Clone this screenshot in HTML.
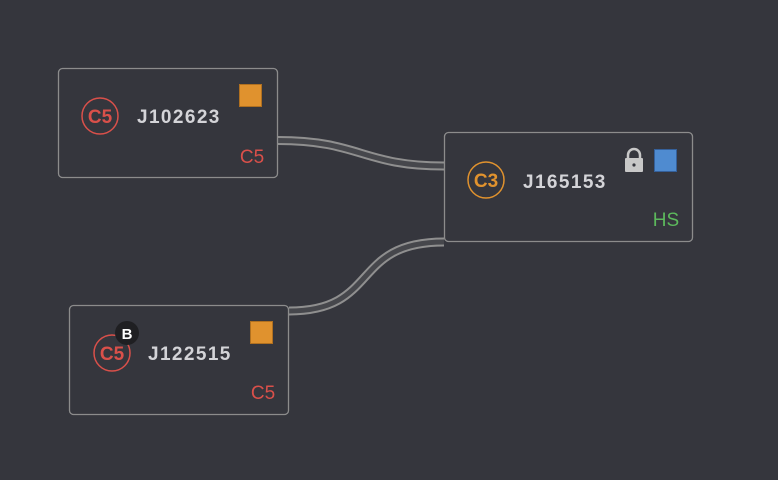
<!DOCTYPE html>
<html><head><style>
html,body{margin:0;padding:0;background:#35363d;width:778px;height:480px;overflow:hidden;font-family:"Liberation Sans",sans-serif;}
svg{position:absolute;left:0;top:0}
</style></head><body>
<svg width="778" height="480" xmlns="http://www.w3.org/2000/svg">
<g fill="none">
<path d="M278,140.5 C360,140.5 362,166 444,166" stroke="#8f8f8f" stroke-width="9"/>
<path d="M278,140.5 C360,140.5 362,166 444,166" stroke="#46474c" stroke-width="5"/>
<path d="M289,311 C380,311 350,242 444,242" stroke="#8f8f8f" stroke-width="9"/>
<path d="M289,311 C380,311 350,242 444,242" stroke="#46474c" stroke-width="5"/>
</g>
<g stroke="#8c8c8c" stroke-width="1.3" fill="#35363d">
<rect x="58.5" y="68.5" width="219" height="109" rx="4"/>
<rect x="444.5" y="132.5" width="248" height="109" rx="4"/>
<rect x="69.5" y="305.5" width="219" height="109" rx="4"/>
</g>
<g font-family="Liberation Sans">
<!-- node 1 -->
<circle cx="100" cy="116" r="18" fill="none" stroke="#d9504a" stroke-width="1.5"/>
<text x="100" y="123" font-size="19" font-weight="bold" fill="#d9504a" text-anchor="middle">C5</text>
<text x="137" y="123" font-size="19" font-weight="bold" fill="#d4d4d8" letter-spacing="1.4">J102623</text>
<rect x="239.5" y="84.5" width="22" height="22" fill="#e0922e" stroke="#b07020"/>
<text x="252" y="163" font-size="19" fill="#d9504a" text-anchor="middle">C5</text>
<!-- node 2 -->
<circle cx="486" cy="180" r="18" fill="none" stroke="#e0922e" stroke-width="1.5"/>
<text x="486" y="187" font-size="19" font-weight="bold" fill="#e0922e" text-anchor="middle">C3</text>
<text x="523" y="188" font-size="19" font-weight="bold" fill="#d4d4d8" letter-spacing="1.4">J165153</text>
<rect x="654.5" y="149.5" width="22" height="22" fill="#4f8bd0" stroke="#35609a"/>
<path d="M628,158 v-3 a6,6 0 0 1 12,0 v3" fill="none" stroke="#c8c8c8" stroke-width="2.5"/>
<rect x="625" y="158" width="18" height="14" rx="1" fill="#c8c8c8"/>
<circle cx="634" cy="165" r="1.6" fill="#35363d"/>
<text x="666" y="226" font-size="19" fill="#5cb85c" text-anchor="middle">HS</text>
<!-- node 3 -->
<circle cx="112" cy="353" r="18" fill="none" stroke="#d9504a" stroke-width="1.5"/>
<text x="112" y="360" font-size="19" font-weight="bold" fill="#d9504a" text-anchor="middle">C5</text>
<circle cx="127" cy="333" r="12" fill="#1f1f22"/>
<text x="127" y="339" font-size="15" font-weight="bold" fill="#ffffff" text-anchor="middle">B</text>
<text x="148" y="360" font-size="19" font-weight="bold" fill="#d4d4d8" letter-spacing="1.4">J122515</text>
<rect x="250.5" y="321.5" width="22" height="22" fill="#e0922e" stroke="#b07020"/>
<text x="263" y="399" font-size="19" fill="#d9504a" text-anchor="middle">C5</text>
</g>
</svg>
</body></html>
